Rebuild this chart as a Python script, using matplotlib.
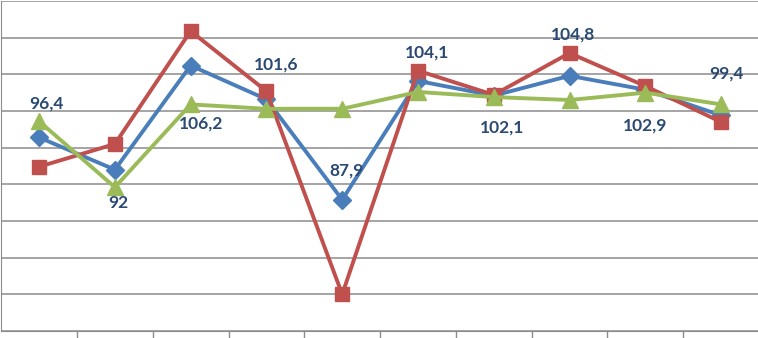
import numpy as np
import matplotlib.pyplot as plt

cats = np.arange(1, 11)
blue = [96.4, 92.0, 106.2, 101.6, 87.9, 104.1, 102.1, 104.8, 102.9, 99.4]
red = [92.4, 95.5, 110.9, 102.7, 75.0, 105.5, 102.2, 107.9, 103.4, 98.5]
green = [98.6, 89.6, 100.9, 100.3, 100.3, 102.6, 101.9, 101.5, 102.5, 100.9]
labels = ["96,4", "92", "106,2", "101,6", "87,9", "104,1", "102,1", "104,8", "102,9", "99,4"]
# label offsets in pixels from the blue points
offs = [(7, 34), (3, -33), (10, -58), (10, 35), (4, 29), (9, 28), (8, -32), (3, 41), (0, -36), (5, 42)]

fig = plt.figure(figsize=(7.58, 3.38), dpi=100)
ax = fig.add_axes([0.0016, 7 / 338, 0.9997, 330 / 338])
ax.set_xlim(0.5, 10.5)
ax.set_ylim(70, 115)

ax.set_yticks(np.arange(70, 116, 5))
ax.yaxis.grid(True, color="#8c8c8c", linewidth=1.1)
ax.set_axisbelow(True)
ax.tick_params(axis="y", left=False, labelleft=False)
ax.set_xticks(np.arange(1.5, 10.5, 1))
ax.tick_params(axis="x", direction="out", length=5, width=1, color="#8c8c8c", labelbottom=False)
for s in ["top", "right"]:
    ax.spines[s].set_visible(False)
ax.spines["left"].set_color("#8c8c8c")
ax.spines["bottom"].set_color("#8c8c8c")

ax.plot(cats, blue, color="#4a7ebb", lw=2.8, marker="D", ms=9, zorder=3)
ax.plot(cats, red, color="#c0504d", lw=2.8, marker="s", ms=10, zorder=4)
ax.plot(cats, green, color="#9bbb59", lw=2.8, marker="^", ms=11, zorder=5)

for x, y, t, (dx, dy) in zip(cats, blue, labels, offs):
    ax.annotate(t, (x, y), xytext=(dx, dy), textcoords="offset pixels",
                ha="center", va="center", fontsize=12.5, fontweight="bold",
                color="#2a4a72", family="Lato", zorder=6)

fig.savefig("out.png", dpi=100)
